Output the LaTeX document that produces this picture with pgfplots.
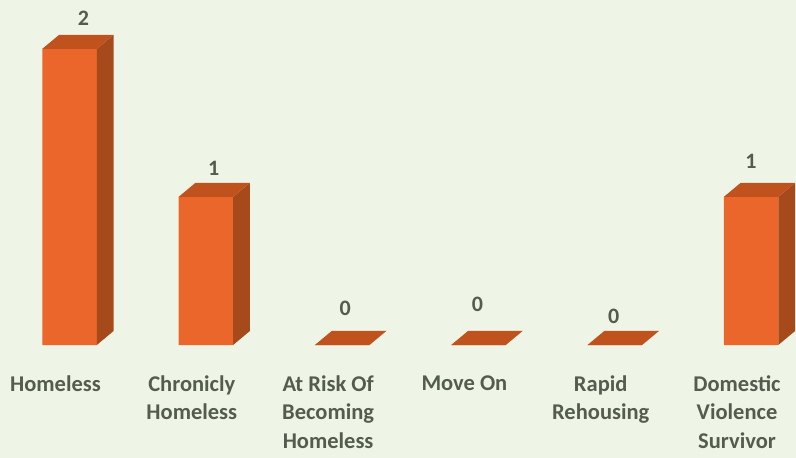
\documentclass[border=0pt]{standalone}
\usepackage{pgfplots}
\pgfplotsset{compat=1.18}
\usepackage{pgfplotstable}
\usepackage{fontspec}
\setmainfont{Carlito}

\definecolor{bgc}{RGB}{238,245,230}
\definecolor{frontc}{RGB}{234,102,42}
\definecolor{sidec}{RGB}{166,74,28}
\definecolor{topc}{RGB}{192,82,30}
\definecolor{txtc}{RGB}{84,92,80}

% x = category index, y = count, lx/ly = label nudges (pt)
\pgfplotstableread{
x y lx ly
0 2 14 17
1 1 8 15
2 0 3 23
3 0 -1 27
4 0 -1 15
5 1 0 21
}\datatable

\def\dx{0.124}
\def\dy{0.095}

\begin{document}
\begin{tikzpicture}
% page background (axis box is 796pt x 345pt with its lower left at the origin)
\fill[bgc] (0,-113pt) rectangle (796pt,345pt);
\begin{axis}[
  at={(0,0)}, anchor=south west,
  width=796pt, height=345pt,
  scale only axis,
  clip=false,
  xmin=-0.51, xmax=5.33,
  ymin=0, ymax=2.33,
  axis line style={draw=none},
  tick style={draw=none},
  ytick=\empty,
  xtick={0,...,5},
  xticklabels={Homeless, Chronicly\\Homeless, At Risk Of\\Becoming\\Homeless, Move On, Rapid\\Rehousing, Domestic\\Violence\\Survivor},
  xticklabel style={align=center, anchor=north, yshift=-27pt, xshift=-14pt, text=txtc,
    font=\fontsize{22.5}{28.5}\selectfont\bfseries},
  /pgf/number format/assume math mode=true,
]
% front faces
\addplot[ybar, bar width=0.4, bar shift=0pt, fill=frontc, draw=none]
  table[x=x, y=y] {\datatable};

% side and top faces
\pgfplotsinvokeforeach{0,...,5}{
  \pgfplotstablegetelem{#1}{y}\of\datatable
  \pgfmathsetmacro\yv{\pgfplotsretval}
  \pgfmathsetmacro\yt{\pgfplotsretval+\dy}
  \pgfmathsetmacro\xr{#1+0.2}
  \pgfmathsetmacro\xrb{#1+0.2+\dx}
  \pgfmathsetmacro\xl{#1-0.2}
  \pgfmathsetmacro\xlb{#1-0.2+\dx}
  \edef\plotcmd{%
    \noexpand\addplot[fill=sidec, draw=none] coordinates {(\xr,0) (\xrb,\dy) (\xrb,\yt) (\xr,\yv)};
    \noexpand\addplot[fill=topc, draw=none] coordinates {(\xl,\yv) (\xlb,\yt) (\xrb,\yt) (\xr,\yv)};
  }
  \plotcmd
}

% value labels above the bar tops
\addplot[draw=none, nodes near coords, point meta=explicit,
  nodes near coords style={anchor=center, text=txtc,
    font=\fontsize{22}{26}\selectfont\bfseries}]
  table[x expr=\thisrow{x}+\thisrow{lx}/136.3,
        y expr=\thisrow{y}+\dy+\thisrow{ly}/148, meta=y] {\datatable};
\end{axis}
\end{tikzpicture}
\end{document}
